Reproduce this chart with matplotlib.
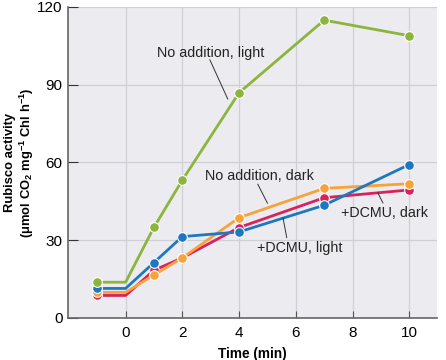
import matplotlib.pyplot as plt

plt.rcParams['font.family'] = ['Liberation Sans', 'DejaVu Sans']
plt.rcParams['mathtext.fontset'] = 'custom'
plt.rcParams['mathtext.rm'] = 'Liberation Sans'
plt.rcParams['mathtext.bf'] = 'Liberation Sans:bold'
plt.rcParams['mathtext.default'] = 'regular'

# Data
time = [-1, 0, 1, 2, 4, 7, 10]
light = [13.8, 13.8, 35.0, 53.2, 86.9, 114.9, 108.9]
dcmu_light = [11.4, 11.4, 21.4, 31.4, 33.2, 43.5, 59.2]
dcmu_dark = [8.7, 8.7, 18.4, 23.2, 34.9, 46.4, 49.4]
dark = [9.9, 9.9, 16.6, 23.2, 38.7, 50.0, 51.8]

series = [
    (dcmu_dark, '#d9215c'),
    (dark, '#f7a23b'),
    (dcmu_light, '#1f77c0'),
    (light, '#8cb43e'),
]

fig = plt.figure(figsize=(4.46, 3.6), dpi=100)
ax = fig.add_axes([0.1525, 0.1167, 0.8275, 0.864])
ax.set_facecolor('#ececf0')

marks = [0, 2, 3, 4, 5, 6]  # no marker at t = 0
for vals, col in series:
    ax.plot(time, vals, color=col, lw=2.0, marker='o', markersize=7,
            markeredgecolor='white', markeredgewidth=0.8, markevery=marks,
            zorder=3)

ax.set_xlim(-2.03, 10.98)
ax.set_ylim(0, 120)
ax.set_xticks([0, 2, 4, 6, 8, 10])
ax.set_yticks([0, 30, 60, 90, 120])
ax.grid(True, color='#cfcfd6', lw=0.9, zorder=0)
ax.tick_params(axis='x', direction='in', length=5, labelsize=11, pad=6,
               color='#555555')
ax.tick_params(axis='y', direction='in', length=7, labelsize=11, pad=4,
               color='#333333')
for s in ['top', 'right']:
    ax.spines[s].set_visible(False)
for s in ['left', 'bottom']:
    ax.spines[s].set_color('#666666')
    ax.spines[s].set_linewidth(1.2)

ax.set_xlabel('Time (min)', fontsize=9.8, fontweight='bold', labelpad=5)
ax.set_ylabel('Rubisco activity\n(μmol CO$_2$ mg$^{-1}$ Chl h$^{-1}$)',
              fontsize=9.4, fontweight='bold', linespacing=1.1)
ax.yaxis.set_label_coords(-0.088, 0.5)

lab = dict(fontsize=10.3, ha='center', va='center', color='#222222', zorder=4)
ln = dict(color='#333333', lw=0.7, zorder=4)
ax.text(3.0, 102.2, 'No addition, light', **lab)
ax.plot([2.97, 3.6], [99.6, 84.5], **ln)
ax.text(4.73, 54.7, 'No addition, dark', **lab)
ax.plot([4.66, 5.0], [51.6, 44.3], **ln)
ax.text(9.14, 40.5, '+DCMU, dark', **lab)
ax.plot([8.89, 9.07], [48.3, 44.4], **ln)
ax.text(6.14, 27.0, '+DCMU, light', **lab)
ax.plot([5.55, 5.68], [38.6, 31.0], **ln)

fig.savefig('out.png', dpi=100)
